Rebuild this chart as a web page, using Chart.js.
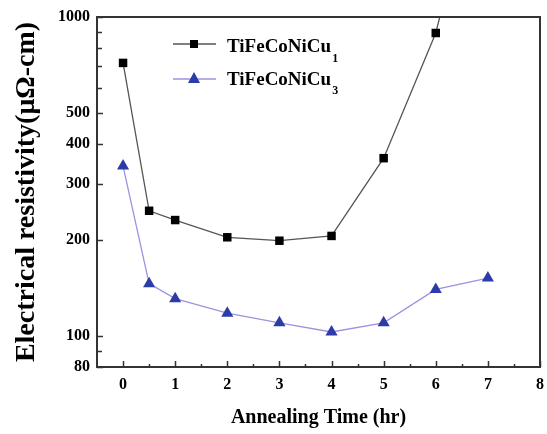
<!DOCTYPE html>
<html>
<head>
<meta charset="utf-8">
<script src="https://cdn.jsdelivr.net/npm/chart.js@4/dist/chart.umd.min.js"></script>
<style>
  html, body { margin: 0; padding: 0; background: #fff; }
  #wrap { width: 547px; height: 434px; }
</style>
</head>
<body>
<div id="wrap"><canvas id="chart" width="547" height="434"></canvas></div>
<script>
// --- data ---
const hoursCu1 = [0, 0.5, 1, 2, 3, 4, 5, 6, 7];
const resistCu1 = [718, 247, 231, 204, 199, 206, 361, 891, 4000]; // last point runs off the top
const hoursCu3 = [0, 0.5, 1, 2, 3, 4, 5, 6, 7];
const resistCu3 = [341, 146, 131, 118, 110, 103, 110, 140, 152];

const xTickValues = [0, 1, 2, 3, 4, 5, 6, 7, 8];
const xMinorValues = [0.5, 1.5, 2.5, 3.5, 4.5, 5.5, 6.5, 7.5];
const yTickValues = [80, 90, 100, 200, 300, 400, 500, 600, 700, 800, 900, 1000];
const yLabelValues = [80, 100, 200, 300, 400, 500, 1000];

const seriesNames = ['TiFeCoNiCu', 'TiFeCoNiCu'];
const seriesSubs = ['1', '3'];

const SERIF = '"Liberation Serif", "Times New Roman", serif';
const FRAME = '#333';
const LINE1 = '#555';
const LINE3 = '#9d92e0';
const MARK1 = '#000';
const MARK3 = '#2c3ba8';

const toPoints = (xs, ys) => xs.map((x, i) => ({ x: x, y: ys[i] }));

// frame + inward tick marks
const frameTicks = {
    id: 'frameTicks',
    afterDatasetsDraw(chart) {
        const { ctx, chartArea: a, scales } = chart;
        ctx.save();
        ctx.strokeStyle = FRAME;
        ctx.lineWidth = 2;
        ctx.strokeRect(a.left, a.top, a.right - a.left, a.bottom - a.top);
        ctx.lineWidth = 1.5;
        ctx.beginPath();
        yTickValues.forEach(v => {
            const y = Math.round(scales.y.getPixelForValue(v)) + 0.5;
            const len = yLabelValues.includes(v) ? 6 : 5;
            ctx.moveTo(a.left, y);
            ctx.lineTo(a.left + len, y);
        });
        xTickValues.forEach(v => {
            const x = Math.round(scales.x.getPixelForValue(v)) + 0.5;
            ctx.moveTo(x, a.bottom);
            ctx.lineTo(x, a.bottom - 6);
        });
        xMinorValues.forEach(v => {
            const x = Math.round(scales.x.getPixelForValue(v)) + 0.5;
            ctx.moveTo(x, a.bottom);
            ctx.lineTo(x, a.bottom - 3);
        });
        ctx.stroke();
        ctx.restore();
    }
};

// legend inside the plot, with subscripts
const insideLegend = {
    id: 'insideLegend',
    afterDraw(chart) {
        const { ctx } = chart;
        const rows = [
            { y: 44, base: 52, subBase: 62, line: LINE1, mark: MARK1, shape: 'rect' },
            { y: 79, base: 85, subBase: 94, line: LINE3, mark: MARK3, shape: 'tri' }
        ];
        ctx.save();
        rows.forEach((r, i) => {
            ctx.strokeStyle = r.line;
            ctx.lineWidth = 1.3;
            ctx.beginPath();
            ctx.moveTo(173, r.y);
            ctx.lineTo(216, r.y);
            ctx.stroke();
            ctx.fillStyle = r.mark;
            ctx.beginPath();
            if (r.shape === 'rect') {
                ctx.rect(190, r.y - 4, 8, 8);
            } else {
                ctx.moveTo(194, r.y - 7);
                ctx.lineTo(200, r.y + 4);
                ctx.lineTo(188, r.y + 4);
                ctx.closePath();
            }
            ctx.fill();
            ctx.fillStyle = '#000';
            ctx.font = 'bold 19px ' + SERIF;
            ctx.textBaseline = 'alphabetic';
            ctx.fillText(seriesNames[i], 227, r.base);
            const w = ctx.measureText(seriesNames[i]).width;
            ctx.font = 'bold 12px ' + SERIF;
            ctx.fillText(seriesSubs[i], 227 + w + 1, r.subBase);
        });
        ctx.restore();
    }
};

new Chart(document.getElementById('chart'), {
    type: 'line',
    data: {
        datasets: [
            {
                label: seriesNames[0] + seriesSubs[0],
                data: toPoints(hoursCu1, resistCu1),
                borderColor: LINE1,
                borderWidth: 1.3,
                pointStyle: 'rect',
                pointRadius: 6,
                pointBackgroundColor: MARK1,
                pointBorderColor: MARK1,
                pointBorderWidth: 0,
                tension: 0
            },
            {
                label: seriesNames[1] + seriesSubs[1],
                data: toPoints(hoursCu3, resistCu3),
                borderColor: LINE3,
                borderWidth: 1.3,
                pointStyle: 'triangle',
                pointRadius: 7,
                pointBackgroundColor: MARK3,
                pointBorderColor: MARK3,
                pointBorderWidth: 0,
                tension: 0
            }
        ]
    },
    options: {
        responsive: false,
        animation: false,
        layout: { padding: { top: 17, right: 3, left: 0, bottom: 0 } },
        plugins: {
            legend: { display: false },
            tooltip: { enabled: false }
        },
        scales: {
            x: {
                type: 'linear',
                min: -0.5,
                max: 8,
                grid: { display: false, drawTicks: false },
                border: { display: false },
                afterBuildTicks: (scale) => { scale.ticks = xTickValues.map(v => ({ value: v })); },
                afterFit: (scale) => {
                    scale.height = 67;
                    scale.paddingRight = 0;
                    scale.paddingLeft = 0;
                },
                ticks: {
                    autoSkip: false,
                    maxRotation: 0,
                    padding: 8,
                    color: '#000',
                    font: { family: SERIF, size: 16, weight: 'bold' }
                },
                title: {
                    display: true,
                    text: 'Annealing Time (hr)',
                    color: '#000',
                    padding: { top: 4, bottom: 4 },
                    font: { family: SERIF, size: 20, weight: 'bold' }
                }
            },
            y: {
                type: 'logarithmic',
                min: 80,
                max: 1000,
                grid: { display: false, drawTicks: false },
                border: { display: false },
                afterBuildTicks: (scale) => { scale.ticks = yTickValues.map(v => ({ value: v })); },
                afterFit: (scale) => { scale.width = 97; },
                ticks: {
                    autoSkip: false,
                    padding: 7,
                    color: '#000',
                    font: { family: SERIF, size: 16, weight: 'bold' },
                    callback: (v) => yLabelValues.includes(v) ? String(v) : ''
                },
                title: {
                    display: true,
                    text: 'Electrical resistivity(μΩ-cm)',
                    color: '#000',
                    padding: { top: 10, bottom: 0 },
                    font: { family: SERIF, size: 28, weight: 'bold' }
                }
            }
        }
    },
    plugins: [frameTicks, insideLegend]
});
</script>
</body>
</html>
